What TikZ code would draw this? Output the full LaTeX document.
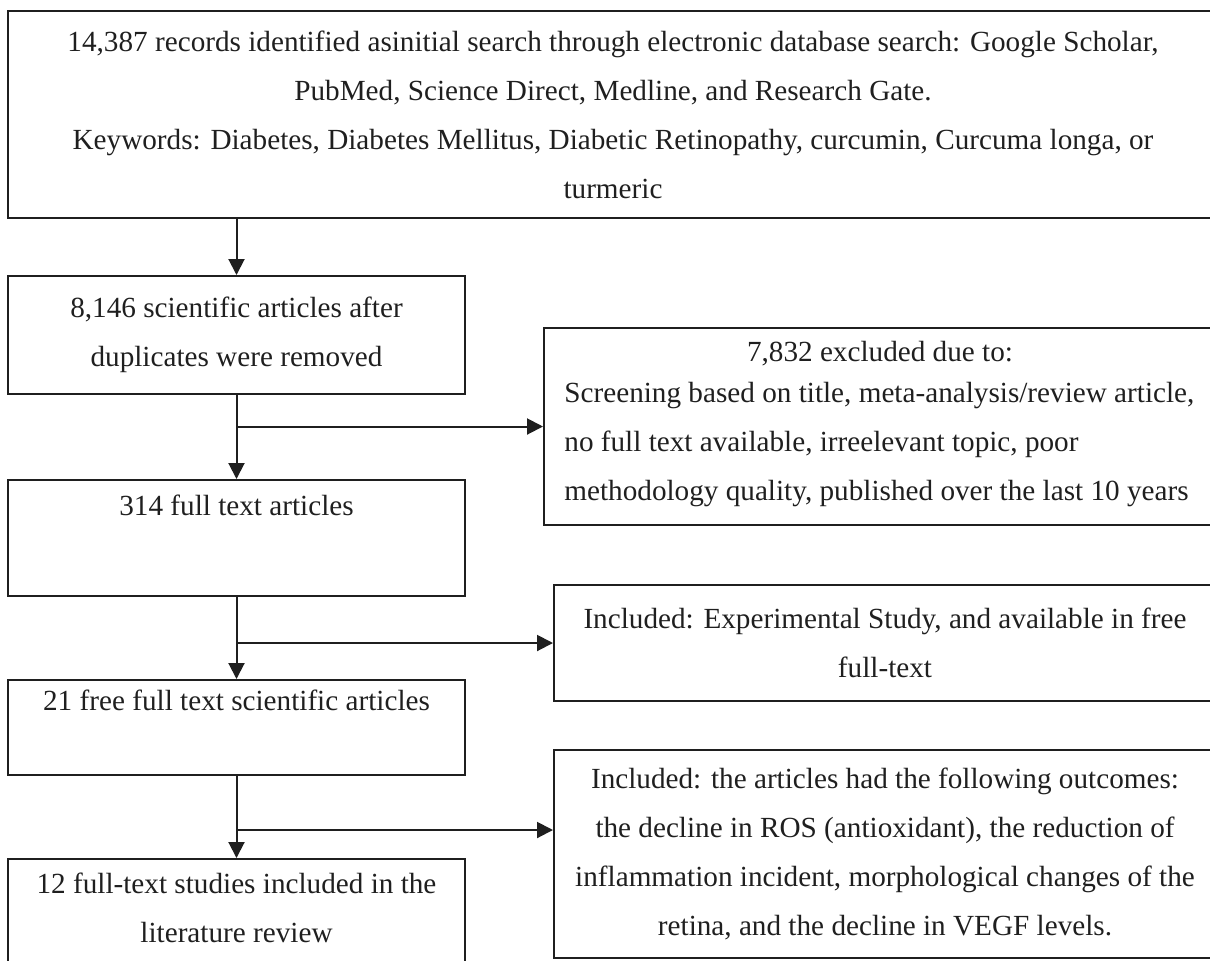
\documentclass[tikz,border=0pt]{standalone}
\usepackage{fontspec}
\setmainfont{Liberation Serif}
\usetikzlibrary{arrows.meta,positioning}
\definecolor{inkDark}{HTML}{1F1F1F}
\tikzset{
  stagebox/.style={draw=inkDark, line width=1pt, inner sep=0pt, text=inkDark, align=center, minimum width=228.5pt},
  sidebox/.style={draw=inkDark, line width=1pt, inner sep=0pt, text=inkDark, align=center, minimum width=331pt},
  boxtext/.style={text=inkDark, align=center, inner sep=0pt},
  flow/.style={draw=inkDark, line width=1pt, -{Triangle[length=8pt,width=8pt]}},
}

\begin{document}
\begin{tikzpicture}[x=0.5pt, y=-0.5pt, font=\fontsize{14.6pt}{24.5pt}\selectfont]
  \useasboundingbox (0,0) rectangle (1210,960);
  \clip (0,0) rectangle (1210,960);
  % stages down the left
  \node[stagebox, minimum width=605pt, minimum height=103.5pt] (search) at (613,114.5)
    {14,387 records identified asinitial search through electronic database search: Google Scholar,\\
     PubMed, Science Direct, Medline, and Research Gate.\\
     Keywords: Diabetes, Diabetes Mellitus, Diabetic Retinopathy, curcumin, Curcuma longa, or\\
     turmeric};
  \node[stagebox, minimum height=59pt] (dedup) at (236.5,335)
    {8,146 scientific articles after\\ duplicates were removed};
  \node[stagebox, minimum height=58pt] (fulltext) at (236.5,538) {};
  \node[boxtext] (fulltext-t) at (236.5,505) {314 full text articles};
  \node[stagebox, minimum height=47.5pt] (free) at (236.5,727.5) {};
  \node[boxtext] (free-t) at (236.5,700) {21 free full text scientific articles};
  \node[stagebox, minimum height=59pt] (review) at (236.5,918) {};
  \node[boxtext] (review-t) at (236.5,908) {12 full-text studies included in the\\ literature review};
  % side boxes
  \node[sidebox, minimum width=336pt, minimum height=98.5pt] (excluded) at (880,426.5) {};
  \node[boxtext] (excluded-t) at (880,354) {7,832 excluded due to:};
  \node[boxtext, align=left, anchor=north west] (excluded-b) at (564,382)
    {Screening based on title, meta-analysis/review article,\\
     no full text available, irreelevant topic, poor\\
     methodology quality, published over the last 10 years};
  \node[sidebox, minimum height=58pt] (incfree) at (885,643)
    {Included: Experimental Study, and available in free\\ full-text};
  \node[sidebox, minimum height=104pt] (incout) at (885,854)
    {Included: the articles had the following outcomes:\\
     the decline in ROS (antioxidant), the reduction of\\
     inflammation incident, morphological changes of the\\
     retina, and the decline in VEGF levels.};
  % arrows
  \draw[flow] (dedup.north |- search.south) -- (dedup.north);
  \draw[flow] (dedup) -- (fulltext);
  \coordinate (split1) at (dedup.south |- excluded.west);
  \draw[flow] (split1) -- (excluded.west);
  \draw[flow] (fulltext) -- (free);
  \coordinate (split2) at (fulltext.south |- incfree.west);
  \draw[flow] (split2) -- (incfree.west);
  \draw[flow] (free) -- (review);
  \coordinate (split3) at ([yshift=-27pt]free.south);
  \draw[flow] (split3) -- (split3 -| incout.west);
\end{tikzpicture}
\end{document}
